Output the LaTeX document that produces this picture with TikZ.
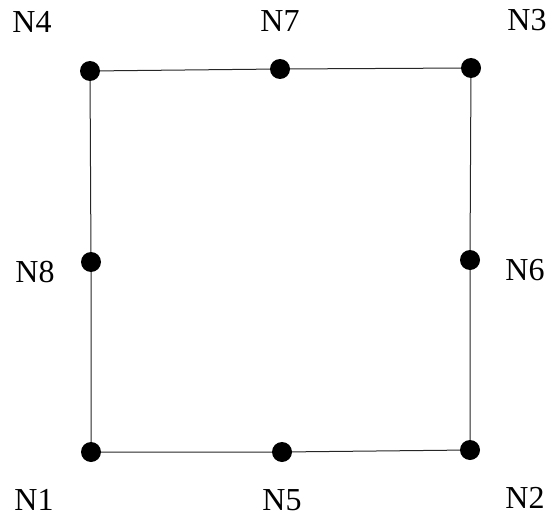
\documentclass[tikz,border=0pt]{standalone}
\usepackage{fontspec}
\setmainfont{Liberation Serif}
\begin{document}
\begin{tikzpicture}[x=1pt,y=-1pt,
  dot/.style={circle,fill=black,inner sep=0pt,minimum size=20pt},
  lab/.style={font=\fontsize{32}{32}\selectfont,inner sep=0pt},
  edge/.style={line width=1pt,draw=black!85}]
\useasboundingbox (0,0) rectangle (549,519);
\node[dot] (n1) at (91,452) {};
\node[dot] (n2) at (470,450) {};
\node[dot] (n3) at (471,68) {};
\node[dot] (n4) at (90,71) {};
\node[dot] (n5) at (282,452) {};
\node[dot] (n6) at (470,260) {};
\node[dot] (n7) at (280,69) {};
\node[dot] (n8) at (91,262) {};
\draw[edge] (n1) -- (n5) -- (n2) -- (n6) -- (n3) -- (n7) -- (n4) -- (n8) -- (n1);
\node[lab] (l4) at (32,22) {N4};
\node[lab] (l7) at (280,21) {N7};
\node[lab] (l3) at (527,20) {N3};
\node[lab] (l8) at (35,272) {N8};
\node[lab] (l6) at (525,270) {N6};
\node[lab] (l1) at (34,500) {N1};
\node[lab] (l5) at (282,500) {N5};
\node[lab] (l2) at (525,498) {N2};
\end{tikzpicture}
\end{document}
